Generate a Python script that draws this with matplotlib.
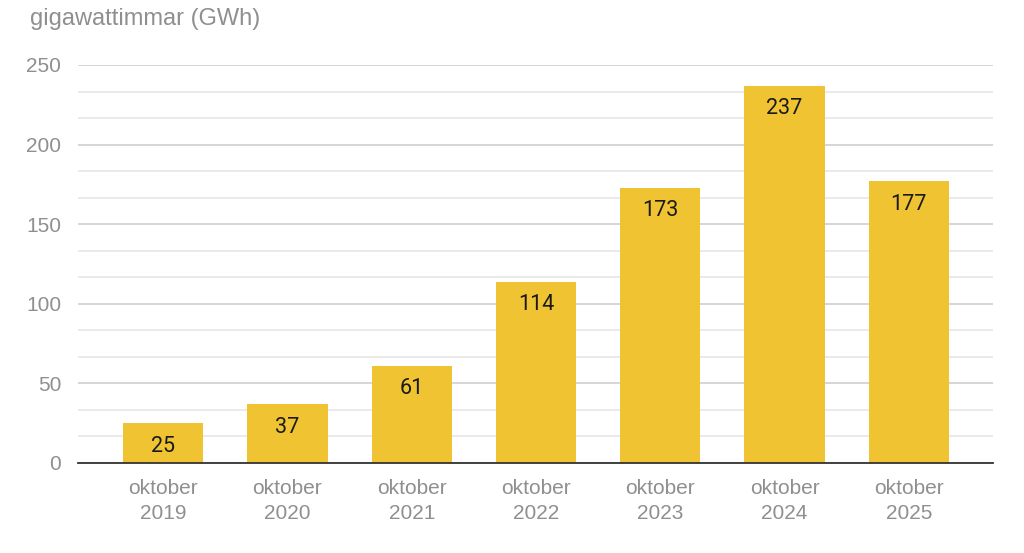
import matplotlib
matplotlib.use("Agg")
import matplotlib.pyplot as plt
import numpy as np

categories = ["oktober\n2019", "oktober\n2020", "oktober\n2021", "oktober\n2022",
              "oktober\n2023", "oktober\n2024", "oktober\n2025"]
values = [25, 37, 61, 114, 173, 237, 177]
yticks = [0, 50, 100, 150, 200, 250]
ylabel = "gigawattimmar (GWh)"

plt.rcParams['font.family'] = ['Liberation Sans', 'DejaVu Sans']
W, H = 1024, 553
fig = plt.figure(figsize=(W/100, H/100), dpi=100)
ax = fig.add_axes([78/W, 1 - 463/H, (993-78)/W, (463-65)/H])

x = np.arange(len(values))
ax.bar(x, values, width=0.645, color="#F0C332", zorder=3)
for xi, v in zip(x, values):
    ax.annotate(str(v), (xi, v), xytext=(0, -16.5), textcoords="offset points",
                ha="center", va="center", fontsize=15.5, color="#1a1a1a", zorder=4,
                family=['Roboto', 'DejaVu Sans'])

ax.set_ylim(0, 250)
ax.set_xlim(-0.685, 6.677)
ax.set_yticks(yticks)
ax.set_yticks([v for v in np.arange(0, 250.01, 50/3) if all(abs(v - t) > 1e-6 for t in yticks)], minor=True)
ax.grid(axis="y", which="major", color="#d0d0d0", linewidth=1.2, zorder=0)
ax.grid(axis="y", which="minor", color="#e6e6e6", linewidth=1.2, zorder=0)
ax.set_xticks(x)
ax.set_xticklabels(categories, linespacing=1.4)
ax.tick_params(axis="both", which="both", length=0, labelsize=15, labelcolor="#8f8f8f")
ax.tick_params(axis="y", pad=12)
ax.tick_params(axis="x", pad=11.5)
for s in ["top", "right", "left"]:
    ax.spines[s].set_visible(False)
ax.spines["bottom"].set_color("#333333")
ax.spines["bottom"].set_linewidth(1.3)
ax.spines["bottom"].set_zorder(5)

fig.text(30/W, 1 - 19.5/H, ylabel, fontsize=17, color="#8f8f8f", ha="left", va="center")

fig.savefig("out.png", dpi=100)
